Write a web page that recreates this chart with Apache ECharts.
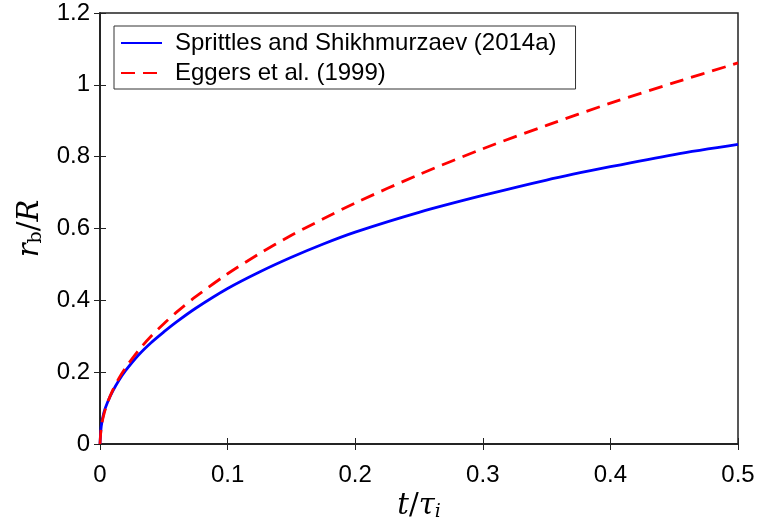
<!DOCTYPE html>
<html>
<head>
<meta charset="utf-8">
<script src="https://cdn.jsdelivr.net/npm/echarts@6/dist/echarts.min.js"></script>
<style>html,body{margin:0;padding:0;background:#fff;}#c{width:760px;height:522px;}</style>
</head>
<body>
<div id="c"></div>
<script>
var seriesNames = ['Sprittles and Shikhmurzaev (2014a)', 'Eggers et al. (1999)'];
var tBlue = [0, 0.001, 0.003, 0.006, 0.01, 0.015, 0.02, 0.03, 0.04, 0.05, 0.06, 0.075, 0.1, 0.125, 0.15, 0.175, 0.2, 0.25, 0.3, 0.35, 0.4, 0.45, 0.5];
var rBlue = [0, 0.050, 0.087, 0.117, 0.147, 0.178, 0.204, 0.247, 0.282, 0.312, 0.340, 0.378, 0.433, 0.479, 0.520, 0.557, 0.590, 0.645, 0.692, 0.735, 0.772, 0.806, 0.834];
var tRed = [0, 0.001, 0.003, 0.006, 0.01, 0.015, 0.02, 0.03, 0.04, 0.05, 0.06, 0.075, 0.1, 0.125, 0.15, 0.175, 0.2, 0.25, 0.3, 0.35, 0.4, 0.45, 0.5];
var rRed = [0, 0.047, 0.082, 0.116, 0.150, 0.184, 0.212, 0.260, 0.300, 0.335, 0.367, 0.410, 0.474, 0.530, 0.581, 0.627, 0.671, 0.750, 0.822, 0.887, 0.949, 1.006, 1.061];
var xTicks = [0, 0.1, 0.2, 0.3, 0.4, 0.5];
var yTicks = [0, 0.2, 0.4, 0.6, 0.8, 1, 1.2];

function pairs(t, r) { return t.map(function (v, i) { return [v, r[i]]; }); }

var font = 'Liberation Sans, Arial, Helvetica, sans-serif';
var serif = 'DejaVu Serif, Liberation Serif, serif';
var chart = echarts.init(document.getElementById('c'), null, {renderer: 'canvas'});
var axisCommon = {
  axisLine: {show: true, lineStyle: {color: '#222', width: 1.5}},
  axisTick: {show: true, inside: true, length: 6, lineStyle: {color: '#222', width: 1}},
  splitLine: {show: false}
};
var mathRich = {
  i: {fontFamily: serif, fontStyle: 'italic', fontSize: 29, color: '#000'},
  n: {fontFamily: serif, fontSize: 29, color: '#000'},
  s: {fontFamily: serif, fontSize: 19, color: '#000', verticalAlign: 'bottom', padding: [12, 0, 0, 0]},
  si: {fontFamily: serif, fontStyle: 'italic', fontSize: 19, color: '#000', verticalAlign: 'bottom', padding: [12, 0, 0, 0]}
};
chart.setOption({
  animation: false,
  backgroundColor: '#fff',
  grid: {left: 100, right: 22, top: 13, bottom: 78, show: true, borderColor: '#222', borderWidth: 1.5, backgroundColor: 'transparent', containLabel: false, outerBoundsMode: 'none'},
  legend: {
    orient: 'vertical', left: 114, top: 26, itemWidth: 41, itemHeight: 14, itemGap: 6,
    padding: [5, 19, 4, 6], borderColor: '#333', borderWidth: 1, backgroundColor: '#fff', borderRadius: 0,
    itemStyle: {opacity: 0},
    textStyle: {fontFamily: font, fontSize: 24, color: '#000', padding: [0, 0, 0, 8]},
    data: [{name: seriesNames[0]}, {name: seriesNames[1]}]
  },
  xAxis: [
    Object.assign({}, axisCommon, {
      type: 'value', min: 0, max: 0.5, interval: 0.1, position: 'bottom',
      axisLabel: {fontFamily: font, fontSize: 24, color: '#000', margin: 19, formatter: function (v) { var r = Math.round(v*10)/10; return xTicks.indexOf(r) >= 0 ? String(r) : ''; }},
      name: '{i|t}{n|/}{i|τ}{si|i}', nameLocation: 'middle', nameGap: 42,
      nameTextStyle: {rich: mathRich}
    }),
    Object.assign({}, axisCommon, {
      type: 'value', min: 0, max: 0.5, interval: 0.1, position: 'top',
      axisLabel: {show: false}
    })
  ],
  yAxis: [
    Object.assign({}, axisCommon, {
      type: 'value', min: 0, max: 1.2, interval: 0.2, position: 'left',
      axisLabel: {fontFamily: font, fontSize: 24, color: '#000', margin: 10, formatter: function (v) { var r = Math.round(v*10)/10; return yTicks.indexOf(r) >= 0 ? String(r) : ''; }},
      name: '{i|r}{s|b}{n|/}{i|R}', nameLocation: 'middle', nameGap: 40, nameRotate: 90,
      nameTextStyle: {rich: mathRich}
    }),
    Object.assign({}, axisCommon, {
      type: 'value', min: 0, max: 1.2, interval: 0.2, position: 'right',
      axisLabel: {show: false}
    })
  ],
  series: [
    {name: seriesNames[0], type: 'line', data: pairs(tBlue, rBlue), smooth: 0.3, symbol: 'none', color: '#0000ff', lineStyle: {color: '#0000ff', width: 2.8}, z: 3},
    {name: seriesNames[1], type: 'line', data: pairs(tRed, rRed), smooth: 0.3, symbol: 'none', color: '#ff0000', lineStyle: {color: '#ff0000', width: 2.8, type: [14, 8]}, z: 4}
  ]
});
</script>
</body>
</html>
